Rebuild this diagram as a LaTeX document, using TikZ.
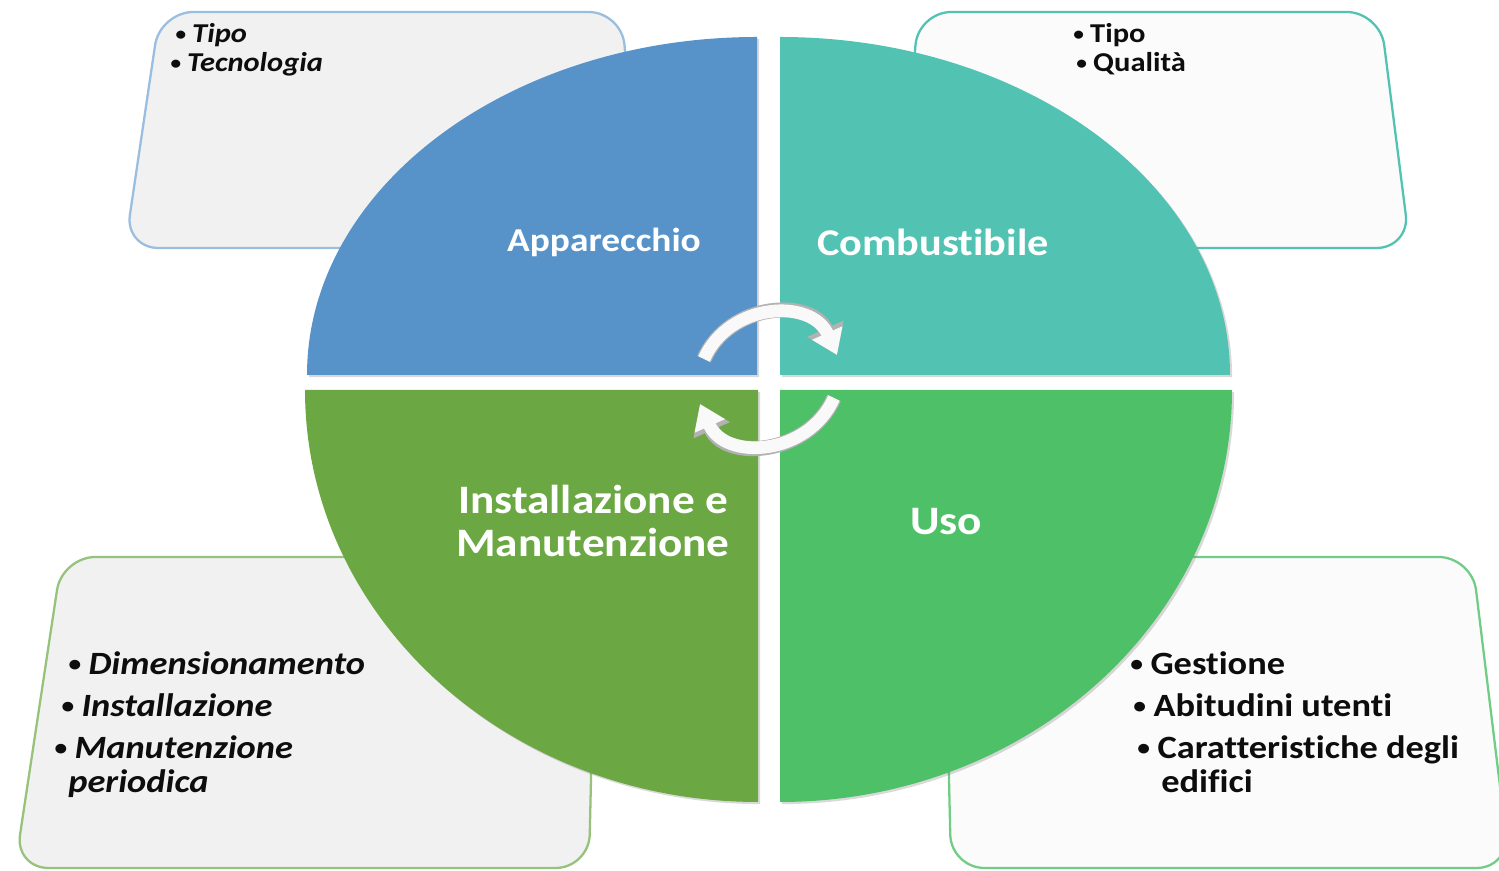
\documentclass[tikz,border=0pt]{standalone}
\usepackage{fontspec}
\setmainfont{Carlito}[FakeStretch=1.12, Ligatures=NoCommon]
\usepackage{tikz}
\usetikzlibrary{arrows.meta,shadows}
\definecolor{apparecchio}{HTML}{5793C9}
\definecolor{combustibile}{HTML}{52C3B3}
\definecolor{installazione}{HTML}{6BA843}
\definecolor{uso}{HTML}{4EC068}
\definecolor{cardgray}{HTML}{F1F1F1}
\definecolor{cardwhite}{HTML}{FBFBFB}
\tikzstyle{quadrant}   = [drop shadow={opacity=0.3, shadow xshift=1.2pt, shadow yshift=-1.2pt}]
\tikzstyle{card}       = [rounded corners=19pt, line width=1.3pt]
\tikzstyle{quadlabel}  = [text=white, align=center, inner sep=0pt]
\tikzstyle{smallitem}  = [anchor=base west, inner sep=0pt, text=black!95, font=\bfseries\fontsize{15.5}{18}\selectfont]
\tikzstyle{bigitem}    = [anchor=base west, inner sep=0pt, text=black!95, font=\bfseries\fontsize{18.5}{22}\selectfont]
\tikzstyle{cyclearrow} = [draw=gray!5, line width=7.2pt, -{Triangle[length=0pt 1.9, width=0pt 2.5]},
                          preaction={draw=gray!60, line width=8.6pt, -{Triangle[length=0pt 1.9, width=0pt 2.5]}}]
\newcommand{\bul}{\makebox[0.62em][l]{\raisebox{0.1em}{\scalebox{0.7}{\textbullet}}}}

\begin{document}
\begin{tikzpicture}[x=0.02cm,y=0.02cm]
        \useasboundingbox (0,0) rectangle (1499,871);
        \clip (0,0) rectangle (1499,871);

        % cards behind the disc
        \draw[card, fill=cardgray, draw=apparecchio!60] (160,859) -- (622,859) -- (640,623) -- (125,623) -- cycle;
        \draw[card, fill=cardwhite, draw=combustibile] (918,859) -- (1380,859) -- (1410,623) -- (900,623) -- cycle;
        \draw[card, fill=cardgray, draw=installazione!70] (62,314) -- (596,314) -- (589,3) -- (15,3) -- cycle;
        \draw[card, fill=cardwhite, draw=uso!80] (944,314) -- (1472,314) -- (1510,3) -- (951,3) -- cycle;

        \node[smallitem] (apptipo) at (175,828) {\itshape\bul Tipo};
        \node[smallitem] (apptecno) at (170,799) {\itshape\bul Tecnologia};
        \node[smallitem] (comtipo) at (1073,828) {\bul Tipo};
        \node[smallitem] (comqual) at (1076,799) {\bul Qualità};
        \node[bigitem] (instdim) at (68,196) {\itshape\bul Dimensionamento};
        \node[bigitem] (instinst) at (61,154) {\itshape\bul Installazione};
        \node[bigitem] (instmanu) at (54,112) {\itshape\bul Manutenzione};
        \node[bigitem] (instper) at (68,78) {\itshape periodica};
        \node[bigitem] (usogest) at (1130,196) {\bul Gestione};
        \node[bigitem] (usoabit) at (1133,154) {\bul Abitudini utenti};
        \node[bigitem] (usocar) at (1137,112) {\bul Caratteristiche degli};
        \node[bigitem] (usoedif) at (1161,78) {edifici};

        % the four quarters of the disc
        \fill[quadrant, apparecchio] (757,496) -- (307,496) arc[start angle=180, end angle=90, x radius=450, y radius=338] -- cycle;
        \fill[quadrant, combustibile] (780,496) -- (780,834) arc[start angle=90, end angle=0, x radius=450, y radius=338] -- cycle;
        \fill[quadrant, installazione] (758,481) -- (305,481) arc[start angle=180, end angle=270, x radius=453, y radius=412] -- cycle;
        \fill[quadrant, uso] (780,481) -- (780,69) arc[start angle=270, end angle=360, x radius=452, y radius=412] -- cycle;

        \node[quadlabel, font=\bfseries\fontsize{19}{22}\selectfont] (apparecchio) at (604,629) {Apparecchio};
        \node[quadlabel, font=\bfseries\fontsize{21.5}{24}\selectfont] (combustibile) at (933,629) {Combustibile};
        \node[quadlabel, font=\bfseries\fontsize{23}{24.5}\selectfont] (installazione) at (593,350) {Installazione e\\Manutenzione};
        \node[quadlabel, font=\bfseries\fontsize{23}{24.5}\selectfont] (uso) at (946,349) {Uso};

        % cycle arrows
        \coordinate (cycletopA) at (704,512);
        \coordinate (cycletopB) at (837,516);
        \coordinate (cyclebotA) at (834,473);
        \coordinate (cyclebotB) at (700,467);
        \draw[cyclearrow] (cycletopA) to[out=66, in=114, looseness=1.2] (cycletopB);
        \draw[cyclearrow] (cyclebotA) to[out=-114, in=-66, looseness=1.2] (cyclebotB);
    \end{tikzpicture}
\end{document}
